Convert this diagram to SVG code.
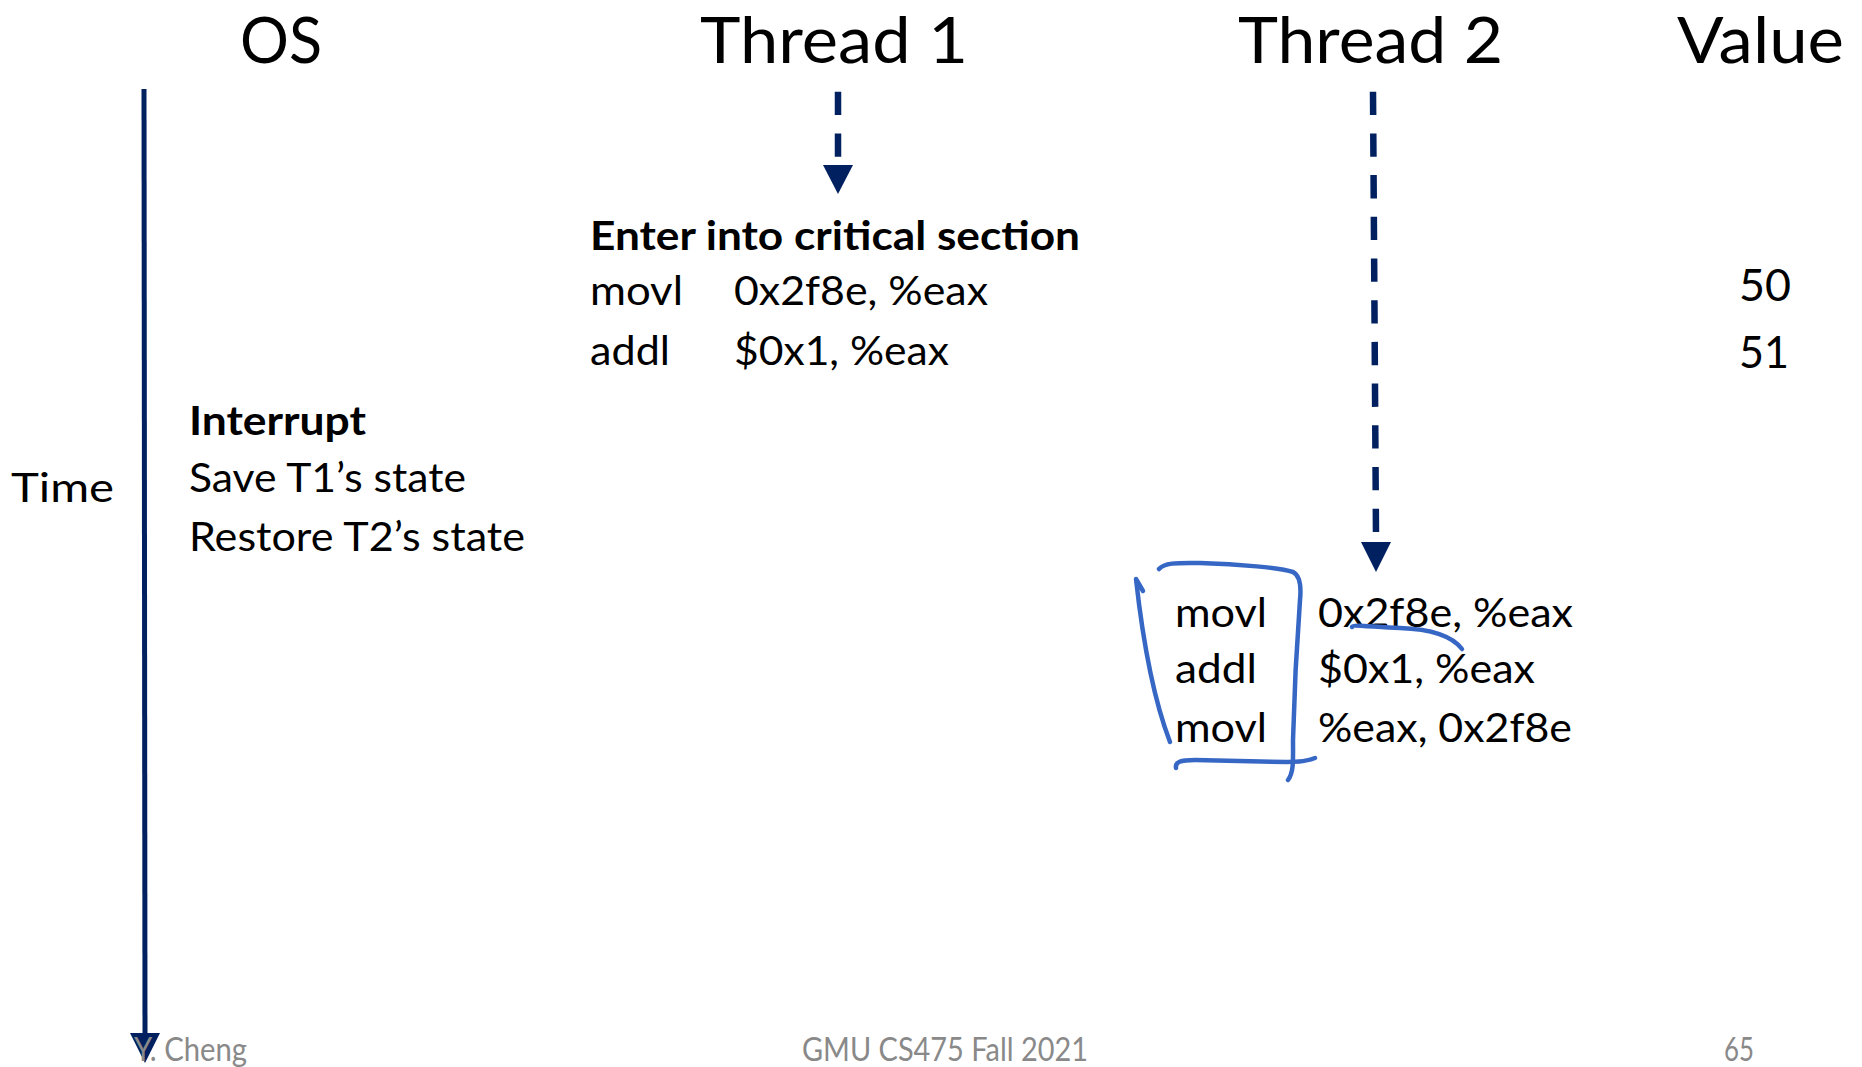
<svg xmlns="http://www.w3.org/2000/svg" width="1862" height="1067" viewBox="0 0 1862 1067">
<style>
text{font-family:Lato,"Noto Sans","Liberation Sans",sans-serif;fill:#000}
.title{font-size:64px}
.body{font-size:41px}
.bold{font-weight:bold}
.val{font-size:45px}
.foot{font-size:32px;fill:#898989}
.dash{stroke:#002060;stroke-width:6.5;stroke-dasharray:23.3 18.4;fill:none}
.solid{stroke:#002060;stroke-width:5;fill:none}
.ink{stroke:#3767c4;stroke-width:4.5;fill:none;stroke-linecap:round;stroke-linejoin:round}
.head{fill:#002060}
</style>
<rect width="1862" height="1067" fill="#fff"/>
<g id="headers">
<text class="title" x="240" y="63" textLength="82" lengthAdjust="spacingAndGlyphs">OS</text>
<text class="title" x="700" y="63" textLength="268" lengthAdjust="spacingAndGlyphs">Thread 1</text>
<text class="title" x="1238" y="63" textLength="265" lengthAdjust="spacingAndGlyphs">Thread 2</text>
<text class="title" x="1677" y="63" textLength="167" lengthAdjust="spacingAndGlyphs">Value</text>
</g>
<g id="connectors">
<line class="solid" x1="144" y1="89" x2="145" y2="1036"/>
<polygon class="head" points="130,1033 160,1033 145,1063"/>
<line class="dash" x1="838" y1="91.7" x2="838" y2="160"/>
<polygon class="head" points="823,165 853,165 838,194"/>
<line class="dash" x1="1373" y1="91.7" x2="1376" y2="536"/>
<polygon class="head" points="1361,542 1391,542 1376,572"/>
</g>
<g id="thread1">
<text class="body bold" x="590" y="250" textLength="490" lengthAdjust="spacingAndGlyphs">Enter into critical section</text>
<text class="body" x="590" y="305" textLength="93" lengthAdjust="spacingAndGlyphs">movl</text>
<text class="body" x="734" y="305" textLength="254" lengthAdjust="spacingAndGlyphs">0x2f8e, %eax</text>
<text class="body" x="590" y="365" textLength="80" lengthAdjust="spacingAndGlyphs">addl</text>
<text class="body" x="734" y="365" textLength="215" lengthAdjust="spacingAndGlyphs">$0x1, %eax</text>
</g>
<g id="os">
<text class="body bold" x="189" y="435" textLength="177" lengthAdjust="spacingAndGlyphs">Interrupt</text>
<text class="body" x="189" y="492" textLength="277" lengthAdjust="spacingAndGlyphs">Save T1’s state</text>
<text class="body" x="189" y="551" textLength="336" lengthAdjust="spacingAndGlyphs">Restore T2’s state</text>
</g>
<g id="time">
<text class="body" x="11" y="502" textLength="103" lengthAdjust="spacingAndGlyphs">Time</text>
</g>
<g id="values">
<text class="val" x="1739" y="301" textLength="52" lengthAdjust="spacingAndGlyphs">50</text>
<text class="val" x="1739" y="368" textLength="50" lengthAdjust="spacingAndGlyphs">51</text>
</g>
<g id="thread2">
<text class="body" x="1175" y="627" textLength="92" lengthAdjust="spacingAndGlyphs">movl</text>
<text class="body" x="1318" y="627" textLength="255" lengthAdjust="spacingAndGlyphs">0x2f8e, %eax</text>
<text class="body" x="1175" y="683" textLength="82" lengthAdjust="spacingAndGlyphs">addl</text>
<text class="body" x="1318" y="683" textLength="217" lengthAdjust="spacingAndGlyphs">$0x1, %eax</text>
<text class="body" x="1175" y="742" textLength="92" lengthAdjust="spacingAndGlyphs">movl</text>
<text class="body" x="1318" y="742" textLength="254" lengthAdjust="spacingAndGlyphs">%eax, 0x2f8e</text>
</g>
<g id="annotations">
<path class="ink" d="M1143,591 L1136,579 C1140,615 1150,690 1170,742"/>
<path class="ink" d="M1159,569 C1165,562 1180,563 1200,563 C1240,564 1280,568 1293,572 C1301,576 1301,590 1300,600 C1297,640 1294,700 1293,740 C1293,760 1294,772 1288,780"/>
<path class="ink" d="M1176,768 C1175,762 1180,760 1195,760 L1287,762 C1300,762 1310,760 1315,758"/>
<path class="ink" d="M1352,627 C1353,624 1372,627 1400,628 C1430,629 1452,636 1462,649"/>
</g>
<g id="footer">
<text class="foot" x="134" y="1061" textLength="113" lengthAdjust="spacingAndGlyphs">Y. Cheng</text>
<text class="foot" x="802" y="1061" textLength="286" lengthAdjust="spacingAndGlyphs">GMU CS475 Fall 2021</text>
<text class="foot" x="1724" y="1061" textLength="30" lengthAdjust="spacingAndGlyphs">65</text>
</g>
</svg>
